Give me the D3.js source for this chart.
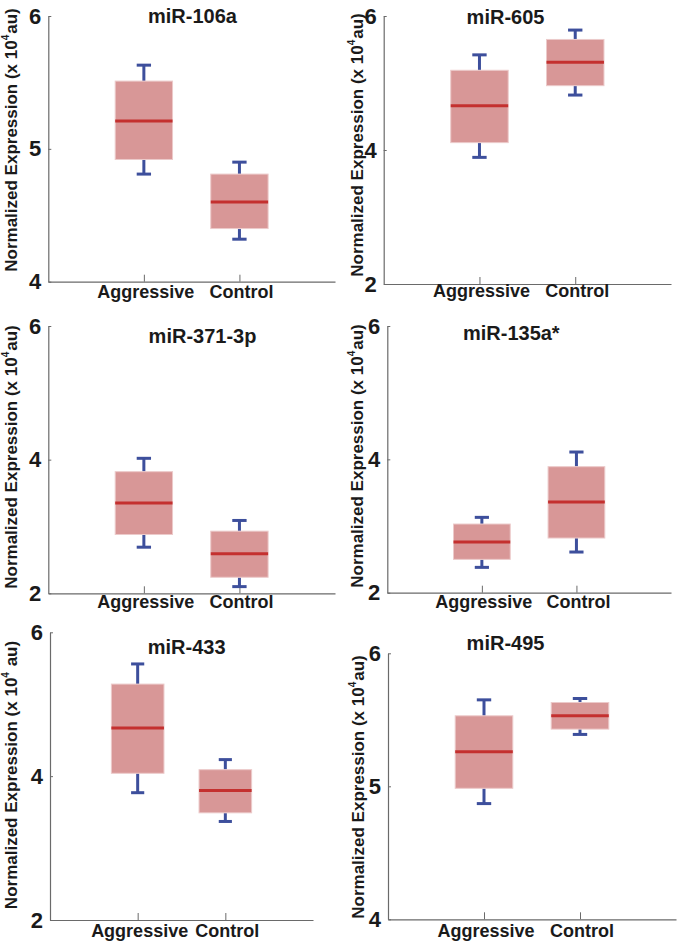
<!DOCTYPE html>
<html>
<head>
<meta charset="utf-8">
<script src="https://cdn.jsdelivr.net/npm/d3@7"></script>
<style>
  html, body { margin: 0; padding: 0; background: #fff; }
  svg { display: block; font-family: "Liberation Sans", Arial, sans-serif; font-weight: bold; }
</style>
</head>
<body>
<svg id="chart" width="677" height="943"></svg>
<script>
// ---------------- data ----------------
const panelTitles = ["miR-106a", "miR-605", "miR-371-3p", "miR-135a*", "miR-433", "miR-495"];
const groups = ["Aggressive", "Control"];
const whiskerLow  = [[4.81, 4.32], [3.89, 4.82], [2.69, 2.10], [2.38, 2.61], [3.77, 3.37], [4.87, 5.39]];
const quartile1   = [[4.92, 4.40], [4.11, 4.96], [2.88, 2.24], [2.50, 2.82], [4.04, 3.49], [4.985, 5.43]];
const medians     = [[5.21, 4.60], [4.66, 5.31], [3.35, 2.59], [2.76, 3.36], [4.67, 3.80], [5.26, 5.53]];
const quartile3   = [[5.51, 4.81], [5.19, 5.65], [3.82, 2.93], [3.03, 3.89], [5.28, 4.09], [5.53, 5.63]];
const whiskerHigh = [[5.63, 4.90], [5.42, 5.79], [4.02, 3.09], [3.13, 4.11], [5.56, 4.23], [5.65, 5.66]];
const yDomains = [[4, 6], [2, 6], [2, 6], [2, 6], [2, 6], [4, 6]];
const yTickValues = [[4, 5, 6], [2, 4, 6], [2, 4, 6], [2, 4, 6], [2, 4, 6], [4, 5, 6]];
const yLabelText = "Normalized Expression (x 10";
const yLabelSup = "4";
const yLabelEnd = ["au)", "au)", "au)", "au)", " au)", "au)"];

// ---------------- layout (positions only) ----------------
const layout = [
  { x0: 48.3, x1: 335, yTop: 16,    yBot: 281.7, titleX: 192.5, titleY: 23,  labelX: 17,  labelY: 140, catY: 297.5 },
  { x0: 383.7, x1: 671, yTop: 16,   yBot: 284,   titleX: 505.5, titleY: 24,  labelX: 363, labelY: 145, catY: 297 },
  { x0: 48.3, x1: 335, yTop: 326,   yBot: 593.3, titleX: 202.5, titleY: 343, labelX: 17,  labelY: 457, catY: 608 },
  { x0: 387.3, x1: 671, yTop: 326,  yBot: 592.7, titleX: 511.3, titleY: 339.5, labelX: 363, labelY: 456, catY: 607.5 },
  { x0: 50, x1: 313, yTop: 632.3,   yBot: 920,   titleX: 186.7, titleY: 653.5, labelX: 17, labelY: 775, catY: 936.5 },
  { x0: 388, x1: 676, yTop: 653.3,  yBot: 919.3, titleX: 505.5, titleY: 650, labelX: 364, labelY: 787, catY: 936.5 }
];

const colors = {
  box: "#d89797", boxStroke: "#eccaca", median: "#c4302f",
  whisker: "#3d4f9c", axis: "#6a6a6a", text: "#1a1a1a"
};

const svg = d3.select("#chart");

panelTitles.forEach((title, p) => {
  const L = layout[p];
  const g = svg.append("g");

  const y = d3.scaleLinear().domain(yDomains[p]).range([L.yBot, L.yTop]);
  const x = d3.scalePoint().domain(groups).range([L.x0, L.x1]).padding(1);
  const step = x.step();
  const boxW = step * 0.6;
  const capW = step * 0.15;

  // Y axis
  const yAxis = d3.axisLeft(y).tickValues(yTickValues[p]).tickFormat(d3.format("d"))
    .tickSizeInner(-3).tickSizeOuter(0).tickPadding(7);
  const ya = g.append("g").attr("transform", `translate(${L.x0},0)`).call(yAxis);
  ya.select(".domain").attr("stroke", colors.axis).attr("stroke-width", 1.2);
  ya.selectAll(".tick line").attr("stroke", colors.axis).attr("stroke-width", 1);
  ya.selectAll(".tick text").attr("font-size", 22).attr("font-weight", "bold")
    .attr("fill", colors.text).attr("font-family", "Liberation Sans, Arial, sans-serif");

  // X axis
  const xAxis = d3.axisBottom(x).tickSizeInner(-7).tickSizeOuter(0).tickFormat("");
  const xa = g.append("g").attr("transform", `translate(0,${L.yBot})`).call(xAxis);
  xa.select(".domain").attr("stroke", colors.axis).attr("stroke-width", 1.2);
  xa.selectAll(".tick line").attr("stroke", colors.axis).attr("stroke-width", 1);

  // category labels
  g.selectAll(".cat").data(groups).join("text")
    .attr("x", d => x(d) + 2)
    .attr("y", L.catY)
    .attr("text-anchor", "middle")
    .attr("font-size", 18)
    .attr("fill", colors.text)
    .text(d => d);

  // boxes
  const rows = groups.map((grp, i) => ({
    grp, lo: whiskerLow[p][i], q1: quartile1[p][i], med: medians[p][i],
    q3: quartile3[p][i], hi: whiskerHigh[p][i]
  }));

  const bx = g.selectAll(".bx").data(rows).join("g");
  bx.append("line")
    .attr("x1", d => x(d.grp)).attr("x2", d => x(d.grp))
    .attr("y1", d => y(d.q3)).attr("y2", d => y(d.hi))
    .attr("stroke", colors.whisker).attr("stroke-width", 3);
  bx.append("line")
    .attr("x1", d => x(d.grp)).attr("x2", d => x(d.grp))
    .attr("y1", d => y(d.q1)).attr("y2", d => y(d.lo))
    .attr("stroke", colors.whisker).attr("stroke-width", 3);
  bx.append("line")
    .attr("x1", d => x(d.grp) - capW / 2).attr("x2", d => x(d.grp) + capW / 2)
    .attr("y1", d => y(d.hi)).attr("y2", d => y(d.hi))
    .attr("stroke", colors.whisker).attr("stroke-width", 3);
  bx.append("line")
    .attr("x1", d => x(d.grp) - capW / 2).attr("x2", d => x(d.grp) + capW / 2)
    .attr("y1", d => y(d.lo)).attr("y2", d => y(d.lo))
    .attr("stroke", colors.whisker).attr("stroke-width", 3);
  bx.append("rect")
    .attr("x", d => x(d.grp) - boxW / 2)
    .attr("width", boxW)
    .attr("y", d => y(d.q3))
    .attr("height", d => y(d.q1) - y(d.q3))
    .attr("fill", colors.box)
    .attr("stroke", colors.boxStroke).attr("stroke-width", 1);
  bx.append("line")
    .attr("x1", d => x(d.grp) - boxW / 2).attr("x2", d => x(d.grp) + boxW / 2)
    .attr("y1", d => y(d.med)).attr("y2", d => y(d.med))
    .attr("stroke", colors.median).attr("stroke-width", 3);

  // title
  g.append("text")
    .attr("x", L.titleX).attr("y", L.titleY)
    .attr("text-anchor", "middle")
    .attr("font-size", 20)
    .attr("fill", colors.text)
    .text(title);

  // y label
  const lab = g.append("text")
    .attr("transform", `translate(${L.labelX},${L.labelY}) rotate(-90)`)
    .attr("text-anchor", "middle")
    .attr("font-size", 17)
    .attr("fill", colors.text);
  lab.append("tspan").text(yLabelText);
  lab.append("tspan").attr("font-size", 10).attr("dy", -8).text(yLabelSup);
  lab.append("tspan").attr("dy", 8).attr("dx", 1).text(yLabelEnd[p]);
});
</script>
</body>
</html>
